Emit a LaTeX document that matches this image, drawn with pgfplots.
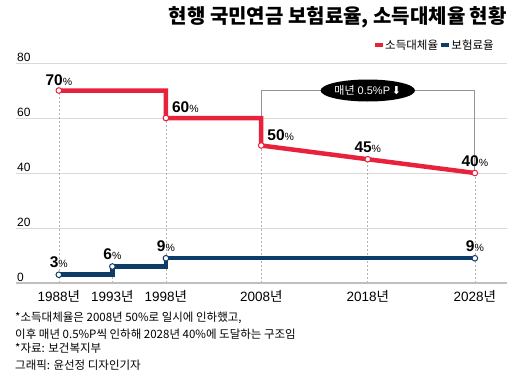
\documentclass[border=0pt]{standalone}
\usepackage{pgfplots}
\pgfplotsset{compat=1.18}
\usetikzlibrary{shapes.geometric}
\usepackage{fontspec}
\setmainfont{Liberation Sans}
\newfontfamily\kr{Noto Sans CJK KR}
\newfontfamily\krblack{Noto Sans CJK KR Black}
\newfontfamily\sym{DejaVu Sans}
\definecolor{cred}{HTML}{E8213D}
\definecolor{cnavy}{HTML}{0E3C68}
\definecolor{gridc}{HTML}{D9D9D9}
\newcommand{\pct}[1]{{\fontsize{15.5}{15.5}\selectfont\bfseries #1}{\fontsize{10.5}{10.5}\selectfont\%}}
\begin{document}
\begin{tikzpicture}
\useasboundingbox (0pt,0pt) rectangle (520pt,380pt);
% title
\node[anchor=east, inner sep=0, font=\krblack\fontsize{20}{20}\selectfont] at (507pt,363pt) {현행 국민연금 보험료율, 소득대체율 현황};
% legend
\node[anchor=east, inner sep=0, font=\kr\fontsize{11.5}{11.5}\selectfont] (l2) at (494pt,335pt) {보험료율};
\fill[cnavy] ([xshift=-10pt,yshift=-2pt]l2.west) rectangle ++(8pt,4pt);
\node[anchor=east, inner sep=0, font=\kr\fontsize{11.5}{11.5}\selectfont] (l1) at ([xshift=-13pt]l2.west) {소득대체율};
\fill[cred] ([xshift=-10pt,yshift=-2pt]l1.west) rectangle ++(8pt,4pt);
\begin{axis}[
  at={(16pt,97pt)}, anchor=south west, scale only axis,
  width=491pt, height=220pt,
  xmin=-0.8, xmax=8.37, ymin=0, ymax=80,
  ytick={0,20,40,60,80},
  ymajorgrids, grid style={gridc, line width=0.8pt},
  axis line style={draw=none}, tick style={draw=none},
  /pgf/number format/assume math mode=true,
  yticklabel style={anchor=south west, inner sep=1pt, font=\fontsize{12}{12}\selectfont},
  xtick={0,1,2,3.78,5.77,7.77},
  xticklabels={1988{\kr 년},1993{\kr 년},1998{\kr 년},2008{\kr 년},2018{\kr 년},2028{\kr 년}},
  xticklabel style={font=\fontsize{13.5}{13.5}\selectfont, yshift=-4pt},
  clip=false,
]
% dotted verticals
\draw[gray!60, line width=0.6pt, dash pattern=on 2pt off 2pt] (axis cs:0,0) -- (axis cs:0,70);
\draw[gray!60, line width=0.6pt, dash pattern=on 2pt off 2pt] (axis cs:1,0) -- (axis cs:1,6);
\draw[gray!60, line width=0.6pt, dash pattern=on 2pt off 2pt] (axis cs:2,0) -- (axis cs:2,60);
\draw[gray!60, line width=0.6pt, dash pattern=on 2pt off 2pt] (axis cs:3.78,0) -- (axis cs:3.78,50);
\draw[gray!60, line width=0.6pt, dash pattern=on 2pt off 2pt] (axis cs:5.77,0) -- (axis cs:5.77,45);
\draw[gray!60, line width=0.6pt, dash pattern=on 2pt off 2pt] (axis cs:7.77,0) -- (axis cs:7.77,40);
% baseline
\draw[gray!50, line width=1.5pt] (axis cs:-0.8,0) -- (axis cs:8.37,0);
% bracket
\draw[gray!85, line width=0.8pt] (axis cs:3.78,60) -- (axis cs:3.78,70) -- (axis cs:7.77,70) -- (axis cs:7.77,40);
\node[ellipse, fill=black, text=white, inner sep=0pt, minimum height=22pt, minimum width=92pt, font=\fontsize{11}{11}\selectfont] at (axis cs:5.77,70) {{\kr 매년} 0.5\%P\,{\sym ⬇}};
% series
\addplot[cred, line width=4.5pt, mark=none] coordinates {(0,70) (2,70) (2,60) (3.78,60) (3.78,50) (5.77,45) (7.77,40)};
\addplot[cnavy, line width=4.5pt, mark=none] coordinates {(0,3) (1,3) (1,6) (2,6) (2,9) (7.77,9)};
\addplot[only marks, mark=*, mark size=2.8pt, mark options={fill=white, draw=cred, line width=1pt}] coordinates {(0,70) (2,60) (3.78,50) (5.77,45) (7.77,40)};
\addplot[only marks, mark=*, mark size=2.8pt, mark options={fill=white, draw=cnavy, line width=1pt}] coordinates {(0,3) (1,6) (2,9) (7.77,9)};
% labels
\node[anchor=south, inner sep=0, yshift=5pt] at (axis cs:0,70) {\pct{70}};
\node[anchor=south west, inner sep=0, xshift=6pt, yshift=5pt] at (axis cs:2,60) {\pct{60}};
\node[anchor=south west, inner sep=0, xshift=6pt, yshift=5pt] at (axis cs:3.78,50) {\pct{50}};
\node[anchor=south, inner sep=0, yshift=6pt] at (axis cs:5.77,45) {\pct{45}};
\node[anchor=south, inner sep=0, yshift=6pt] at (axis cs:7.77,40) {\pct{40}};
\node[anchor=south, inner sep=0, yshift=7pt] at (axis cs:0,3) {\pct{3}};
\node[anchor=south, inner sep=0, yshift=7pt] at (axis cs:1,6) {\pct{6}};
\node[anchor=south, inner sep=0, yshift=6pt] at (axis cs:2,9) {\pct{9}};
\node[anchor=south, inner sep=0, yshift=6pt] at (axis cs:7.77,9) {\pct{9}};
\end{axis}
% footnotes
\begin{scope}[every node/.style={anchor=west, inner sep=0, font=\kr\fontsize{11.5}{11.5}\selectfont}]
\node at (15pt,62pt) {*소득대체율은 2008년 50\%로 일시에 인하했고,};
\node at (15pt,45.5pt) {이후 매년 0.5\%P씩 인하해 2028년 40\%에 도달하는 구조임};
\node at (15pt,31.5pt) {*자료: 보건복지부};
\node at (15pt,15pt) {그래픽: 윤선정 디자인기자};
\end{scope}
\end{tikzpicture}
\end{document}
